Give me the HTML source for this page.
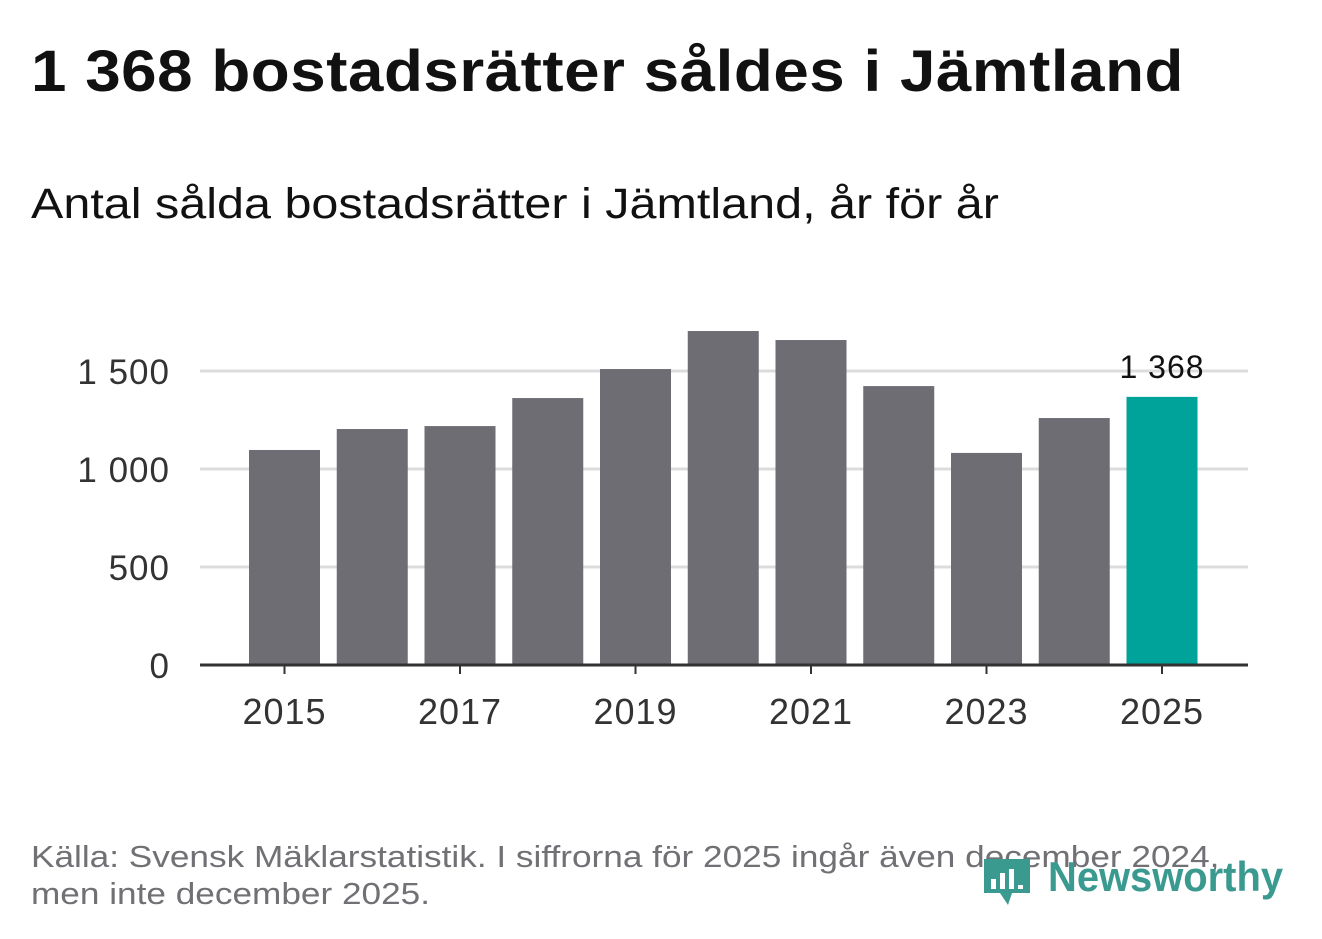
<!DOCTYPE html>
<html><head><meta charset="utf-8">
<style>
html,body{margin:0;padding:0;background:#fff;}
body{width:1322px;height:939px;position:relative;overflow:hidden;font-family:"Liberation Sans",sans-serif;}
.t{position:absolute;white-space:nowrap;transform-origin:0 0;}
</style></head><body>
<div class="t" style="left:31px;top:38px;font-size:58px;font-weight:bold;color:#111;letter-spacing:0.5px;transform:scaleX(1.098);">1 368 bostadsrätter såldes i Jämtland</div>
<div class="t" style="left:31px;top:180px;font-size:43px;color:#111;transform:scaleX(1.128);">Antal sålda bostadsrätter i Jämtland, år för år</div>
<svg id="chart" width="1322" height="939" style="position:absolute;left:0;top:0;"></svg>
<div class="t" style="left:31px;top:838px;font-size:31px;line-height:37px;color:#707075;transform:scaleX(1.135);">Källa: Svensk Mäklarstatistik. I siffrorna för 2025 ingår även december 2024,<br>men inte december 2025.</div>
<div style="position:absolute;left:982px;top:855px;width:310px;height:55px;">
<svg width="50" height="55" style="position:absolute;left:0;top:0;"><path d="M2 4 H48 V38 H30 L26 50 L18 38 H2 Z" fill="#3a9a90"/><rect x="9" y="24" width="5" height="10" fill="#fff"/><rect x="18" y="18" width="5" height="16" fill="#fff"/><rect x="27" y="14" width="5" height="20" fill="#fff"/><rect x="36" y="30" width="5" height="4" fill="#fff"/></svg>
<div class="t" style="left:66px;top:-2px;font-size:42px;font-weight:bold;color:#3a9a90;transform:scaleX(0.95);">Newsworthy</div>
</div>
<script>
const years=[2015,2016,2017,2018,2019,2020,2021,2022,2023,2024,2025];
const values=[1097,1204,1219,1362,1510,1704,1658,1423,1082,1260,1368];
const yTicks=[0,500,1000,1500];
const yTickLabels=["0","500","1 000","1 500"];
const xTicks=[2015,2017,2019,2021,2023,2025];
const ns="http://www.w3.org/2000/svg";
const svg=document.getElementById('chart');
const y=v=>665-v*0.196;
const x=yr=>284.5+(yr-2015)*87.75;
function el(t,a){const e=document.createElementNS(ns,t);for(const k in a)e.setAttribute(k,a[k]);svg.appendChild(e);return e;}
yTicks.forEach((v,i)=>{
 if(v>0){const g=el('line',{x1:200,x2:1248,y1:y(v),y2:y(v),stroke:'#dcdcdc','stroke-width':3});
 
 }
 const t=el('text',{x:170,y:y(v)+13,'text-anchor':'end','font-size':35,fill:'#333','font-family':'Liberation Sans, sans-serif',textLength:null});
 t.removeAttribute('textLength');
 t.setAttribute('letter-spacing','1');
 t.textContent=yTickLabels[i];
 
 
});
years.forEach((yr,i)=>{
 const b=el('rect',{x:x(yr)-35.5,width:71,y:y(values[i]),height:665-y(values[i]),fill:yr===2025?'#00a39a':'#6e6d73'});
 
 
});
const lab=el('text',{x:x(2025),y:y(values[10])-19,'text-anchor':'middle','font-size':32,fill:'#111','font-family':'Liberation Sans, sans-serif','letter-spacing':'1'});
lab.textContent=values[10].toLocaleString('sv-SE').replace(/\s/g,' ');


const ax=el('line',{x1:200,x2:1248,y1:665,y2:665,stroke:'#333','stroke-width':3});


xTicks.forEach(yr=>{
 const tk=el('line',{x1:x(yr),x2:x(yr),y1:665,y2:674,stroke:'#333','stroke-width':2});
 
 
 const t=el('text',{x:x(yr),y:724,'text-anchor':'middle','font-size':36,fill:'#333','font-family':'Liberation Sans, sans-serif','letter-spacing':'1'});
 t.textContent=yr;
 
 
});
</script>
</body></html>
